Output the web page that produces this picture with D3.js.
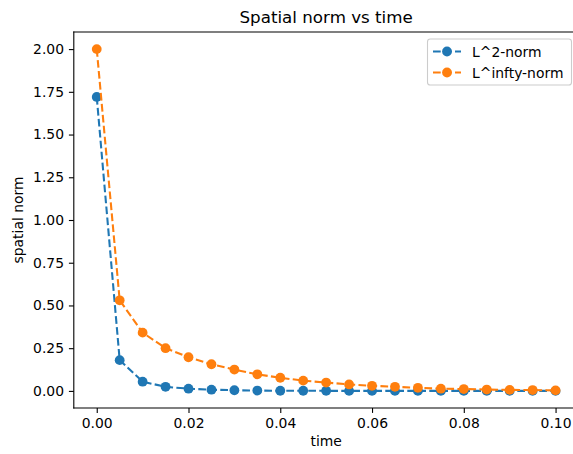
<!DOCTYPE html>
<html>
<head>
<meta charset="utf-8">
<script src="https://cdn.jsdelivr.net/npm/d3@7"></script>
<style>
  body { margin: 0; background: #fff; overflow: hidden; }
  svg { display: block; }
  text { font-family: "DejaVu Sans", sans-serif; fill: #000; }
</style>
</head>
<body>
<div id="chart"></div>
<script>
// time steps and the two norms
var times = [0, 0.005, 0.01, 0.015, 0.02, 0.025, 0.03, 0.035, 0.04, 0.045, 0.05,
             0.055, 0.06, 0.065, 0.07, 0.075, 0.08, 0.085, 0.09, 0.095, 0.1];
var l2norm = [1.72, 0.18, 0.054, 0.024, 0.013, 0.007, 0.004, 0.002, 0.001, 0.001, 0.0005,
              0, 0, 0, 0, 0, 0, 0, 0, 0, 0];
var linfnorm = [2.0, 0.53, 0.341, 0.25, 0.197, 0.156, 0.125, 0.097, 0.077, 0.06, 0.049,
                0.038, 0.03, 0.024, 0.018, 0.013, 0.011, 0.008, 0.006, 0.005, 0.003];
var xTicks = [0, 0.02, 0.04, 0.06, 0.08, 0.10];
var yTicks = [0, 0.25, 0.5, 0.75, 1.0, 1.25, 1.5, 1.75, 2.0];
var seriesNames = ["L^2-norm", "L^infty-norm"];
var colors = ["#1f77b4", "#ff7f0e"];

var W = 573, H = 454;
var mLeft = 73.8, mRight = 578.5, mTop = 32, mBottom = 408;

var svg = d3.select("#chart").append("svg")
    .attr("width", W)
    .attr("height", H);

var x = d3.scaleLinear().domain([-0.005, 0.105]).range([mLeft, mRight]);
var y = d3.scaleLinear().domain([-0.1, 2.1]).range([mBottom, mTop]);

var xAxis = d3.axisBottom(x).tickValues(xTicks).tickFormat(d3.format(".2f"))
    .tickSizeInner(4.9).tickSizeOuter(0).tickPadding(4.9);
var yAxis = d3.axisLeft(y).tickValues(yTicks).tickFormat(d3.format(".2f"))
    .tickSizeInner(4.9).tickSizeOuter(0).tickPadding(4.9);

svg.append("g")
    .attr("class", "x axis")
    .attr("transform", "translate(0," + mBottom + ")")
    .call(xAxis);
svg.append("g")
    .attr("class", "y axis")
    .attr("transform", "translate(" + mLeft + ",0)")
    .call(yAxis);
svg.selectAll(".axis .domain").remove();
svg.selectAll(".axis text").style("font-size", "13.9px")
    .style("font-family", "DejaVu Sans");
svg.selectAll(".axis line").attr("stroke", "#000").attr("stroke-width", 1.1);

// spines (the right one falls outside the picture)
var spines = [[mLeft, mTop, mLeft, mBottom], [mLeft, mBottom, mRight, mBottom], [mLeft, mTop, mRight, mTop]];
svg.append("g").selectAll("line")
    .data(spines)
    .enter().append("line")
    .attr("x1", function(d){ return d[0]; }).attr("y1", function(d){ return d[1]; })
    .attr("x2", function(d){ return d[2]; }).attr("y2", function(d){ return d[3]; })
    .attr("stroke", "#000").attr("stroke-width", 1.1)
    .attr("stroke-linecap", "square");

var allSeries = [l2norm, linfnorm];

var line = d3.line()
    .x(function(d, i){ return x(times[i]); })
    .y(function(d){ return y(d); });

allSeries.forEach(function(vals, k) {
    svg.append("path")
        .datum(vals)
        .attr("fill", "none")
        .attr("stroke", colors[k])
        .attr("stroke-width", 2.08)
        .attr("stroke-dasharray", "7.7,3.3")
        .attr("d", line);
    svg.append("g").selectAll("circle")
        .data(vals)
        .enter().append("circle")
        .attr("cx", function(d, i){ return x(times[i]); })
        .attr("cy", function(d){ return y(d); })
        .attr("r", 4.9)
        .attr("fill", colors[k]);
});

// title and axis labels
svg.append("text")
    .attr("x", (mLeft + mRight) / 2).attr("y", 23)
    .attr("text-anchor", "middle")
    .style("font-size", "16.7px")
    .text("Spatial norm vs time");

svg.append("text")
    .attr("x", (mLeft + mRight) / 2).attr("y", 446)
    .attr("text-anchor", "middle")
    .style("font-size", "13.9px")
    .text("time");

svg.append("text")
    .attr("transform", "rotate(-90)")
    .attr("x", -(mTop + mBottom) / 2).attr("y", 23)
    .attr("text-anchor", "middle")
    .style("font-size", "13.9px")
    .text("spatial norm");

// legend
var lg = svg.append("g");
lg.append("rect")
    .attr("x", 427.5).attr("y", 39)
    .attr("width", 144).attr("height", 46)
    .attr("rx", 2.8)
    .attr("fill", "#fff").attr("fill-opacity", 0.8)
    .attr("stroke", "#ccc").attr("stroke-width", 1.1);

seriesNames.forEach(function(name, k) {
    var ly = 51.5 + k * 21;
    lg.append("line")
        .attr("x1", 433).attr("x2", 461)
        .attr("y1", ly).attr("y2", ly)
        .attr("stroke", colors[k]).attr("stroke-width", 2.08)
        .attr("stroke-dasharray", "7.7,3.3");
    lg.append("circle")
        .attr("cx", 447).attr("cy", ly).attr("r", 4.9)
        .attr("fill", colors[k]);
    lg.append("text")
        .attr("x", 472).attr("y", ly + 5)
        .style("font-size", "13.9px")
        .text(name);
});
</script>
</body>
</html>
